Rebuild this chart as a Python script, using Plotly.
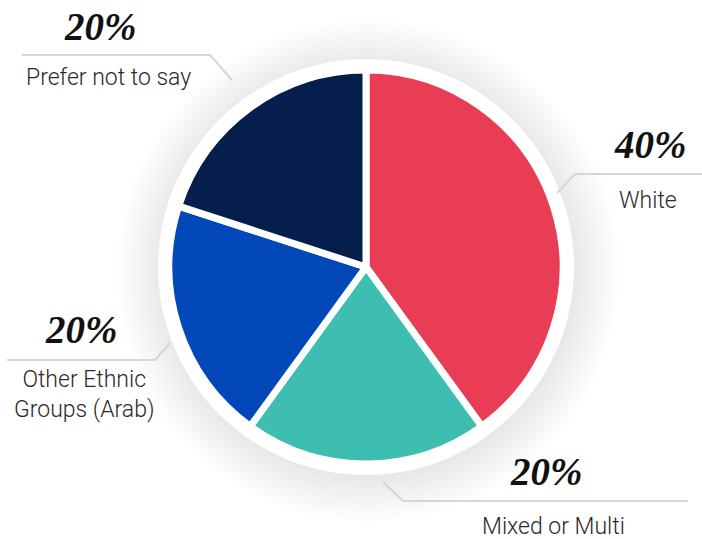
import plotly.graph_objects as go

# Ethnicity breakdown
categories = ["White", "Mixed or Multi", "Other Ethnic<br>Groups (Arab)", "Prefer not to say"]
shares = [40, 20, 20, 20]
colors = ["#E83D55", "#3DBEB0", "#0248B9", "#061E4B"]

W, H = 702, 539


def px(x):
    return x / W


def py(y):
    return 1 - y / H


cx, cy = 366, 267      # pie centre in pixels
r_pie = 197            # slice radius incl. half the white separator
r_ring = 208           # white rim around the pie

fig = go.Figure(
    go.Pie(
        labels=categories,
        values=shares,
        sort=False,
        direction="clockwise",
        rotation=0,
        marker=dict(colors=colors, line=dict(color="white", width=7)),
        textinfo="none",
        hoverinfo="none",
        showlegend=False,
        domain=dict(
            x=[px(cx - r_pie), px(cx + r_pie)],
            y=[py(cy + r_pie), py(cy - r_pie)],
        ),
    )
)

shapes = []
# soft halo behind the rim
for i in range(24):
    r = r_ring + 44 - i * 2
    shapes.append(dict(
        type="circle", xref="paper", yref="paper", layer="below",
        x0=px(cx + 2 - r), x1=px(cx + 2 + r), y0=py(cy + 4 + r), y1=py(cy + 4 - r),
        fillcolor="rgba(0,0,0,0.003)", line=dict(width=0),
    ))
shapes.append(dict(
    type="circle", xref="paper", yref="paper", layer="below",
    x0=px(cx - r_ring), x1=px(cx + r_ring), y0=py(cy + r_ring), y1=py(cy - r_ring),
    fillcolor="white", line=dict(width=0),
))

# leader lines (pixel polylines)
leaders = [
    [(557, 193), (575, 174), (702, 174)],
    [(383, 482), (403, 501), (688, 501)],
    [(170, 343), (155, 360), (7, 360)],
    [(232, 80), (210, 55), (22, 55)],
]
for pts in leaders:
    path = "M " + " L ".join(f"{px(x)},{py(y)}" for x, y in pts)
    shapes.append(dict(type="path", xref="paper", yref="paper", path=path,
                       line=dict(color="#D6D6D6", width=2)))

# label placement: (percent centre, name centre)
label_pos = [
    ((650, 144), (648, 200)),
    ((546, 471), (553, 526)),
    ((81, 329), (84, 394)),
    ((100, 27), (108, 78)),
]

annotations = []
for name, val, ((pxx, pyy), (lx, ly)) in zip(categories, shares, label_pos):
    annotations.append(dict(
        x=px(pxx), y=py(pyy), xref="paper", yref="paper", showarrow=False,
        text=f"{val}%", xanchor="center", yanchor="middle",
        font=dict(family="Liberation Serif", size=39, color="#111111",
                  style="italic", weight="bold"),
    ))
    annotations.append(dict(
        x=px(lx), y=py(ly), xref="paper", yref="paper", showarrow=False,
        text=name, xanchor="center", yanchor="middle", align="center",
        font=dict(family="Roboto", size=23, color="#2A2A2A", weight=300),
    ))

fig.update_layout(
    width=W, height=H,
    margin=dict(l=0, r=0, t=0, b=0),
    paper_bgcolor="white", plot_bgcolor="white",
    shapes=shapes, annotations=annotations,
)

fig.write_html("out.html")
